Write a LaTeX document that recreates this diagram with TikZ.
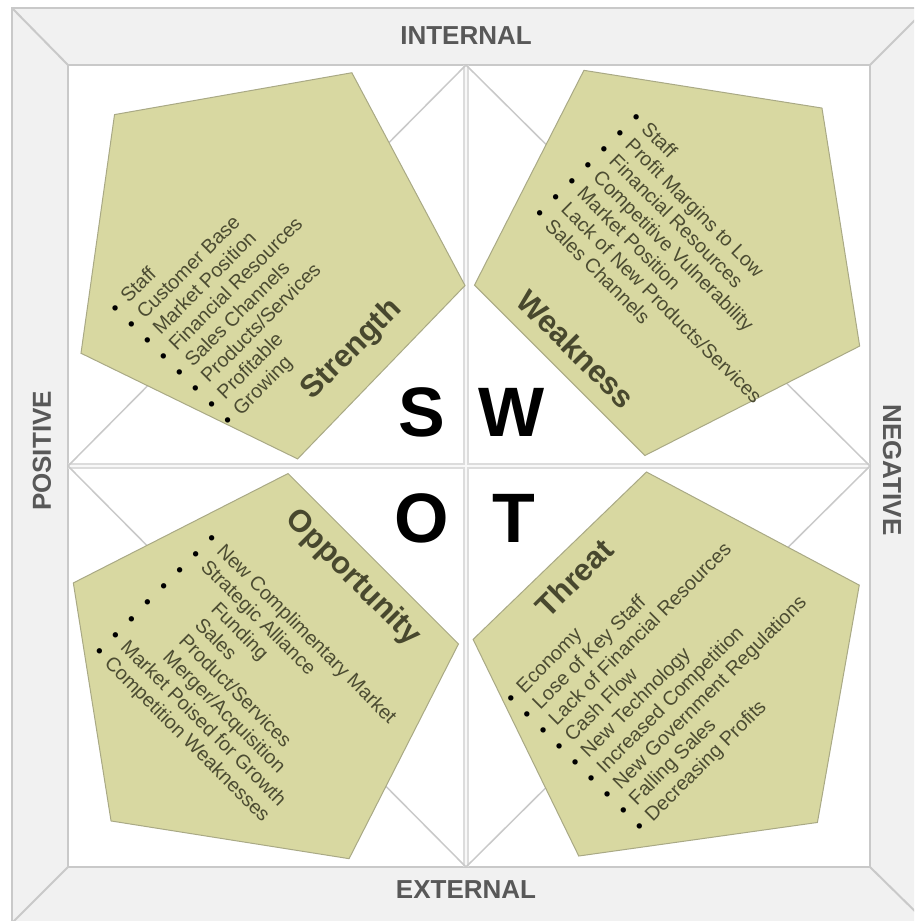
\documentclass[tikz,border=0pt]{standalone}
\usepackage{fontspec}
\setmainfont{Liberation Sans}
\usetikzlibrary{shapes.geometric}

\definecolor{band}{HTML}{F1F1F1}
\definecolor{rule}{HTML}{C9C9C9}
\definecolor{divider}{HTML}{DCDCDC}
\definecolor{pentfill}{HTML}{D8D8A1}
\definecolor{pentline}{HTML}{A9A985}
\definecolor{itemtext}{HTML}{4C4C32}
\definecolor{titletext}{HTML}{48482E}
\definecolor{axistext}{HTML}{585858}

% bullet followed by the gap before the item text
\newcommand{\bul}{\textcolor{black}{\textbullet}\hspace{9pt}}
% extra indent used by some opportunity items
\newcommand{\opind}{\hspace*{37pt}}

\begin{document}
\begin{tikzpicture}[x=1pt,y=-1pt,
  pent/.style={regular polygon, regular polygon sides=5, minimum size=410pt,
    inner sep=0pt, outer sep=0pt, fill=pentfill, draw=pentline, line width=1pt},
  item/.style={font=\fontsize{19.8}{22}\selectfont, text=itemtext,
    inner sep=0pt, anchor=base west, transform shape},
  heading/.style={font=\bfseries\fontsize{31}{36}\selectfont, text=titletext,
    inner sep=0pt},
  letter/.style={font=\bfseries\fontsize{70}{80}\selectfont, text=black, inner sep=0pt},
  axis/.style={font=\bfseries\fontsize{26}{30}\selectfont, text=axistext, inner sep=0pt},
  guide/.style={draw=rule, line width=1.5pt},
]
\useasboundingbox (0,0) rectangle (914,921);
\clip (0,0) rectangle (914,921);
\fill[white] (0,0) rectangle (914,921);

% bevelled outer frame
\coordinate (o1) at (12,8);   \coordinate (o2) at (927,8);
\coordinate (o3) at (927,923); \coordinate (o4) at (12,923);
\coordinate (i1) at (68,65);  \coordinate (i2) at (870,65);
\coordinate (i3) at (870,867); \coordinate (i4) at (68,867);
\filldraw[fill=band, draw=rule, line width=2pt] (o1) rectangle (o3);
\draw[rule, line width=2pt] (o1) -- (i1) (o2) -- (i2) (o3) -- (i3) (o4) -- (i4);
\filldraw[fill=white, draw=rule, line width=2pt] (i1) rectangle (i3);

% quadrant dividers
\coordinate (ct) at (466,65);  \coordinate (cb) at (466,867);
\coordinate (cl) at (68,466);  \coordinate (cr) at (870,466);
\draw[divider, line width=6pt] (ct) -- (cb) (cl) -- (cr);
\draw[white!80!divider, line width=2pt] (ct) -- (cb) (cl) -- (cr);

% inscribed diamond
\draw[guide] (ct) -- (cr) -- (cb) -- (cl) -- cycle;

% the four pentagons
\node[pent, shape border rotate=46] (strength) at (262,257) {};
\node[pent, shape border rotate=27] (weakness) at (677,253) {};
\node[pent, shape border rotate=-9] (opportunity) at (256,676) {};
\node[pent, shape border rotate=8] (threat) at (675,675) {};

% headings
\node[heading, rotate=45]  (hS) at (352,350) {Strength};
\node[heading, rotate=-45] (hW) at (576,349) {Weakness};
\node[heading, rotate=-45] (hO) at (353,578) {Opportunity};
\node[heading, rotate=45]  (hT) at (574,578) {Threat};

% item lists
\begin{scope}[shift={(115,308)}, rotate=45]
  \foreach \t [count=\k from 0] in {Staff, Customer Base, Market Position,
      Financial Resources, Sales Channels, Products/Services, Profitable, Growing}
    \node[item] (s\k) at (-3.4, \k*22.7+6.7) {\bul\t};
\end{scope}

\begin{scope}[shift={(636,117)}, rotate=-45]
  \foreach \t [count=\k from 0] in {Staff, Profit Margins to Low, Financial Resources,
      Competitive Vulnerability, Market Position, Lack of New Products/Services,
      Sales Channels}
    \node[item] (w\k) at (-3.4, \k*22.7+6.7) {\bul\t};
\end{scope}

\begin{scope}[shift={(211.7,538.3)}, rotate=-45]
  \foreach \t [count=\k from 0] in {New Complimentary Market, Strategic Alliance,
      \opind Funding, \opind Sales, \opind Product/Services, \opind Merger/Acquisition,
      Market Poised for Growth, Competition Weaknesses}
    \node[item] (p\k) at (-3.4, \k*22.7+6.7) {\bul\t};
\end{scope}

\begin{scope}[shift={(510.7,698.3)}, rotate=45]
  \foreach \t [count=\k from 0] in {Economy, Lose of Key Staff,
      Lack of Financial Resources, Cash Flow, New Technology, Increased Competition,
      New Government Regulations, Falling Sales, Decreasing Profits}
    \node[item] (t\k) at (-3.4, \k*22.7+6.7) {\bul\t};
\end{scope}

% central letters
\node[letter] (S) at (422,412) {S};
\node[letter] (W) at (512,412) {W};
\node[letter] (O) at (422,518) {O};
\node[letter] (T) at (514,518) {T};

% frame captions
\node[axis] (int) at (466,36) {INTERNAL};
\node[axis] (ext) at (466,890) {EXTERNAL};
\node[axis, rotate=90]  (pos) at (42,451) {POSITIVE};
\node[axis, rotate=-90] (neg) at (892,470) {NEGATIVE};
\end{tikzpicture}
\end{document}
